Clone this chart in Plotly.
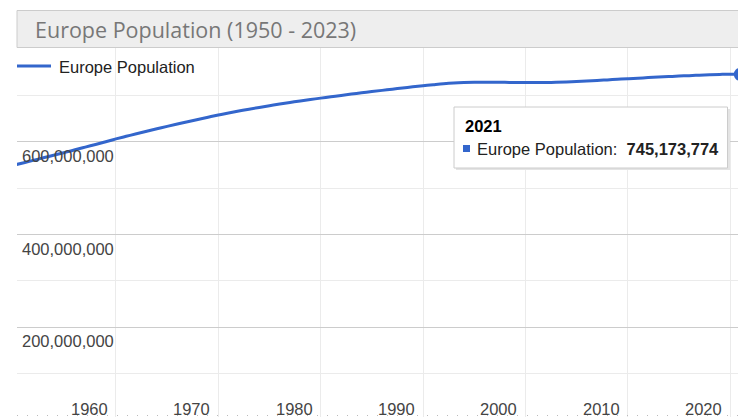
import plotly.graph_objects as go

# ---------------- data ----------------
years = list(range(1950, 2024))
population_millions = [
    549.3, 554.8, 560.3, 565.8, 571.3, 576.9, 582.5, 588.3, 594.1, 600.0,
    606.0, 611.6, 617.1, 622.5, 627.8, 633.0, 638.1, 643.1, 648.0, 652.8,
    657.5, 661.9, 666.1, 670.1, 673.9, 677.6, 681.2, 684.6, 687.8, 690.9,
    693.9, 696.9, 699.8, 702.6, 705.3, 708.0, 710.6, 713.2, 715.7, 718.2,
    720.6, 722.8, 724.9, 726.5, 727.5, 728.0, 728.2, 728.1, 727.9, 727.7,
    727.5, 727.4, 727.5, 727.9, 728.6, 729.6, 730.7, 731.9, 733.2, 734.5,
    735.8, 737.0, 738.1, 739.2, 740.3, 741.4, 742.4, 743.3, 744.2, 745.0,
    745.6, 745.173774, 744.4, 742.9,
]
population = [v * 1e6 for v in population_millions]

series_name = "Europe Population"
chart_title = "Europe Population (1950 - 2023)"
x_tick_years = [1960, 1970, 1980, 1990, 2000, 2010, 2020]
y_major_ticks = [0, 200_000_000, 400_000_000, 600_000_000, 800_000_000]
y_minor_ticks = [100_000_000, 300_000_000, 500_000_000, 700_000_000]
y_label_ticks = [200_000_000, 400_000_000, 600_000_000]
tooltip_year = 2021
tooltip_value = 745_173_774

# ---------------- geometry helpers (page px -> paper; page has 8px body margin) ----------------
OFF = 8
W, H = 746 - OFF, 417 - OFF
def px(x):
    return (x - OFF) / W
def py(y):
    return 1 - (y - OFF) / H

BLUE = "#3366cc"
LABEL = "#444444"
FONT = "Liberation Sans, Arial, sans-serif"

fig = go.Figure()

fig.add_trace(go.Scatter(
    x=years, y=population, mode="lines", name=series_name,
    line=dict(color=BLUE, width=3, shape="spline", smoothing=1.0),
    hoverinfo="skip", showlegend=False,
))

i_hl = years.index(tooltip_year)
fig.add_trace(go.Scatter(
    x=[years[i_hl]], y=[population[i_hl]], mode="markers",
    marker=dict(color=BLUE, size=13), hoverinfo="skip", showlegend=False,
    cliponaxis=False,
))

shapes = []
annotations = []

# title box
shapes.append(dict(type="rect", xref="paper", yref="paper",
                   x0=px(17), x1=px(760), y0=py(47.5), y1=py(10.5),
                   fillcolor="#eeeeee", line=dict(color="#cccccc", width=1),
                   layer="above"))
annotations.append(dict(xref="paper", yref="paper", x=px(33), y=py(29.5),
                        xanchor="left", yanchor="middle", showarrow=False,
                        text=chart_title,
                        font=dict(family="Open Sans, sans-serif", size=21.5, color="#777777")))

# legend
shapes.append(dict(type="line", xref="paper", yref="paper",
                   x0=px(17), x1=px(51), y0=py(66), y1=py(66),
                   line=dict(color=BLUE, width=3), layer="above"))
annotations.append(dict(xref="paper", yref="paper", x=px(57), y=py(66.5),
                        xanchor="left", yanchor="middle", showarrow=False,
                        text=series_name, font=dict(family=FONT, size=16.5, color="#222222")))

# y labels (inside, below the gridline)
for v in y_label_ticks:
    annotations.append(dict(xref="paper", yref="y", x=px(20), y=v, yshift=-14,
                            xanchor="left", yanchor="middle", showarrow=False,
                            text=f"{v:,}", font=dict(family=FONT, size=16.5, color=LABEL)))

# x labels
for yr in x_tick_years:
    annotations.append(dict(xref="x", yref="paper", x=yr, xshift=-6, y=py(408.5),
                            xanchor="right", yanchor="middle", showarrow=False,
                            text=str(yr), font=dict(family=FONT, size=16.5, color=LABEL)))

# bottom dotted baseline
shapes.append(dict(type="line", xref="paper", yref="paper",
                   x0=px(17), x1=1, y0=py(415.5), y1=py(415.5),
                   line=dict(color="#bbbbbb", width=1, dash="1px,9px"), layer="above"))

# tooltip
shapes.append(dict(type="rect", xref="paper", yref="paper",
                   x0=px(456), x1=px(730), y0=py(170), y1=py(109),
                   fillcolor="#e4e4e4", line=dict(width=0), layer="above"))
shapes.append(dict(type="rect", xref="paper", yref="paper",
                   x0=px(454), x1=px(727.5), y0=py(168), y1=py(107),
                   fillcolor="#ffffff", line=dict(color="#cccccc", width=1), layer="above"))
shapes.append(dict(type="rect", xref="paper", yref="paper",
                   x0=px(463), x1=px(470), y0=py(152), y1=py(145),
                   fillcolor=BLUE, line=dict(width=0), layer="above"))
annotations.append(dict(xref="paper", yref="paper", x=px(463), y=py(126),
                        xanchor="left", yanchor="middle", showarrow=False,
                        text=f"<b>{tooltip_year}</b>",
                        font=dict(family=FONT, size=16.5, color="#000000")))
annotations.append(dict(xref="paper", yref="paper", x=px(475), y=py(149),
                        xanchor="left", yanchor="middle", showarrow=False,
                        text=f"{series_name}:  <b>{tooltip_value:,}</b>",
                        font=dict(family=FONT, size=16.5, color="#222222")))

fig.update_layout(
    width=W, height=H,
    margin=dict(l=0, r=0, t=0, b=0),
    paper_bgcolor="#ffffff", plot_bgcolor="#ffffff",
    showlegend=False,
    shapes=shapes, annotations=annotations,
    xaxis=dict(domain=[px(17), 1], range=[1950.33, 2021.56],
               tickvals=x_tick_years, showticklabels=False, ticks="",
               showgrid=True, gridcolor="#ebebeb", gridwidth=1,
               zeroline=False, showline=False, fixedrange=True),
    yaxis=dict(domain=[0, py(48)], range=[(420.1 - 417) / 0.464 * 1e6, (420.1 - 48) / 0.464 * 1e6],
               tickvals=y_major_ticks, showticklabels=False, ticks="",
               showgrid=True, gridcolor="#cccccc", gridwidth=1,
               minor=dict(tickvals=y_minor_ticks, showgrid=True, gridcolor="#ebebeb", gridwidth=1),
               zeroline=False, showline=False, fixedrange=True),
)

fig.write_html("out.html")
